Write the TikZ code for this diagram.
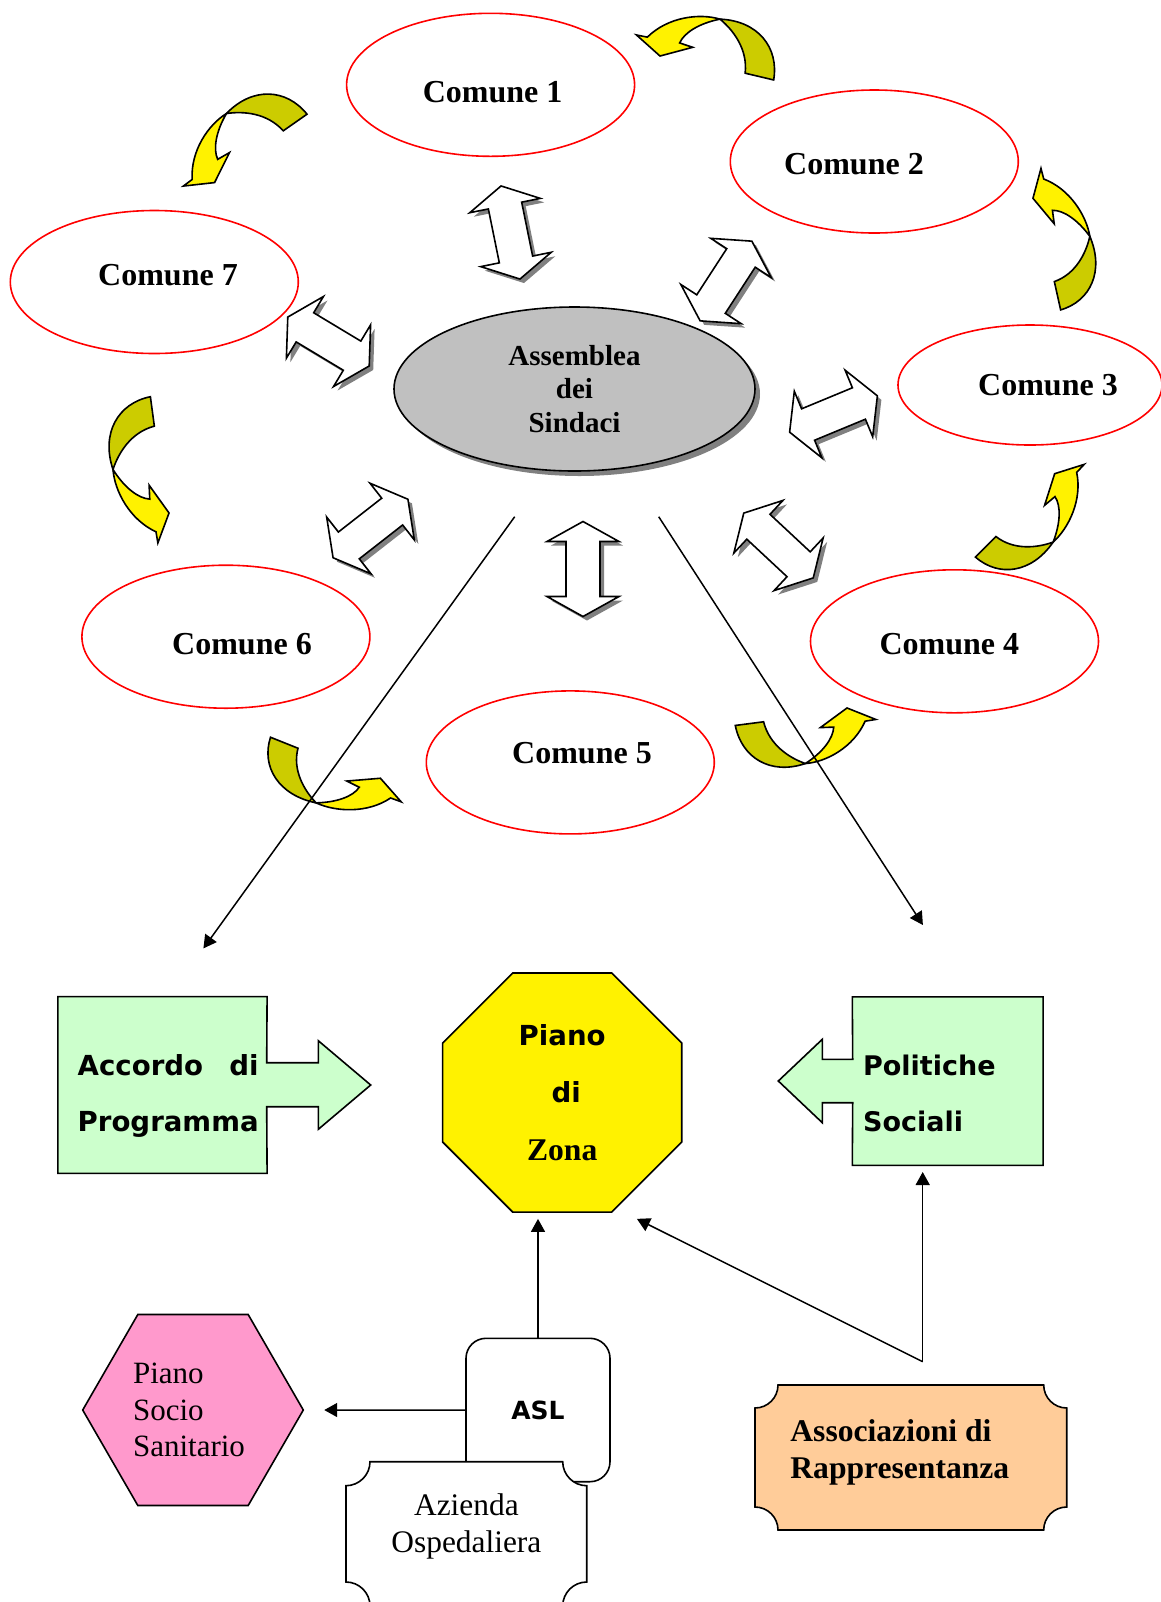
\documentclass[tikz,border=0pt]{standalone}
\usepackage{fontspec}
\setmainfont{Liberation Serif}
\newfontfamily\dvs{DejaVu Sans}
\usetikzlibrary{shapes.geometric,arrows.meta,shadows}

\definecolor{olivey}{HTML}{CCCC00}
\definecolor{lgreen}{HTML}{CCFFCC}
\definecolor{pinky}{HTML}{FF99CC}
\definecolor{peach}{HTML}{FFCC99}
\definecolor{asmgray}{HTML}{C0C0C0}
\definecolor{shadowgray}{HTML}{808080}

% double arrow between Assemblea and a Comune
\newcommand\dbpath{(-47.5,0) -- (-27.5,-36) -- (-27.5,-17) -- (27.5,-17) -- (27.5,-36) -- (47.5,0) -- (27.5,36) -- (27.5,17) -- (-27.5,17) -- (-27.5,36) -- cycle}
\newcommand\dblarr[3]{%
	\fill[shadowgray, shift={(#1+4,#2+4)}, rotate=#3] \dbpath;
	\draw[fill=white, line width=0.8pt, shift={(#1,#2)}, rotate=#3] \dbpath;
}

% curved yellow arrow between two Comuni
\newcommand\bendarr[5]{%
	\begin{scope}[shift={(#1,#2)}, rotate=#3, xscale=#4, yscale=#5, line width=0.8pt]
		\filldraw[fill=olivey] (36,0) -- (65,1) .. controls (64,-32) and (38,-54) .. (1,-48) .. controls (16,-40) and (34,-24) .. (36,0) -- cycle;
		\filldraw[fill=yellow] (1,-48) .. controls (-20,-50) and (-50,-40) .. (-66,-16) -- (-77,-16) -- (-50,0) -- (-20,-15) -- (-33.5,-16.7) .. controls (-31,-28) and (-18,-40) .. (1,-48) -- cycle;
	\end{scope}%
}

% box with hollowed corners
\newcommand\plaque[5]{(#1+#5,#2) -- (#3-#5,#2) .. controls (#3-#5,#2+0.55*#5) and (#3-0.55*#5,#2+#5) .. (#3,#2+#5) -- (#3,#4-#5) .. controls (#3-0.55*#5,#4-#5) and (#3-#5,#4-0.55*#5) .. (#3-#5,#4) -- (#1+#5,#4) .. controls (#1+#5,#4-0.55*#5) and (#1+0.55*#5,#4-#5) .. (#1,#4-#5) -- (#1,#2+#5) .. controls (#1+0.55*#5,#2+#5) and (#1+#5,#2+0.55*#5) .. (#1+#5,#2) -- cycle}

\begin{document}
\begin{tikzpicture}[x=0.5pt, y=-0.5pt,
	comune/.style={ellipse, draw=red, line width=0.8pt, minimum width=144pt, minimum height=71.5pt, inner sep=0},
	lbl/.style={font=\fontsize{16}{19}\selectfont\bfseries, inner sep=0},
	sansb/.style={font=\fontsize{13.8}{28}\selectfont\dvs\bfseries, inner sep=0},
	conn/.style={-{Triangle[length=6.5pt,width=7pt]}, line width=0.75pt}]
	
	\useasboundingbox (0,0) rectangle (1161,1602);
	
	\bendarr{709.5}{66}{-11.4}{1.01}{1}
	\bendarr{254.5}{152.5}{37}{1}{1}
	\bendarr{160.5}{462.5}{99.6}{1.024}{1}
	\bendarr{332.5}{760.8}{160}{1.02}{0.94}
	\bendarr{798.5}{716}{-170.6}{0.983}{1}
	\bendarr{1020.5}{510.2}{-133.1}{1}{0.95}
	\bendarr{1045.4}{246.7}{-75.6}{1}{0.95}
	
	\dblarr{510.5}{232.5}{101.5}
	\dblarr{726}{281}{57}
	\dblarr{833.5}{414}{22.5}
	\dblarr{778.5}{545.5}{-43}
	\dblarr{583}{569}{90}
	\dblarr{370.5}{528.5}{38}
	\dblarr{328.5}{341.5}{-31}
	
	\node[comune] (c1) at (490.6,84.8) {};
	\node[comune] (c2) at (874.3,161.5) {};
	\node[comune, minimum width=132pt, minimum height=60pt] (c3) at (1030,385) {};
	\node[comune] (c4) at (954.5,641.3) {};
	\node[comune] (c5) at (570.3,762.4) {};
	\node[comune] (c6) at (225.9,636.7) {};
	\node[comune] (c7) at (154.3,282) {};
	
	\node[lbl] (t1) at (492.6,92) {Comune 1};
	\node[lbl] (t2) at (854,164.5) {Comune 2};
	\node[lbl] (t3) at (1048,385) {Comune 3};
	\node[lbl] (t4) at (949.4,644) {Comune 4};
	\node[lbl] (t5) at (582,753) {Comune 5};
	\node[lbl] (t6) at (242,644) {Comune 6};
	\node[lbl] (t7) at (168,275) {Comune 7};
	
	\node[ellipse, draw, fill=asmgray, line width=0.8pt, minimum width=180.5pt, minimum height=82pt, inner sep=0,
		drop shadow={shadow xshift=2.5pt, shadow yshift=-2.5pt, fill=shadowgray, opacity=1},
		align=center, font=\fontsize{14.5}{16.9}\selectfont\bfseries] (asm) at (574.5,389) {Assemblea\\dei\\Sindaci};
	
	\coordinate (l0) at (514.7,516.7);
	\coordinate (l1) at (203.4,948.4);
	\coordinate (r0) at (658.7,516.7);
	\coordinate (r1) at (922.9,925);
	\draw[conn] (l0) -- (l1);
	\draw[conn] (r0) -- (r1);
	
	% Accordo di Programma
	\node[minimum width=104.2pt, minimum height=88pt, inner sep=0] (accbox) at (162.5,1085) {};
	\draw[fill=lgreen, line width=0.8pt] (accbox.north west) -- (accbox.north east) -- (266.7,1062.7) -- (318.3,1062.7) -- (318.3,1040.7) -- (370.7,1085) -- (318.3,1129.3) -- (318.3,1106.7) -- (266.7,1106.7) -- (accbox.south east) -- (accbox.south west) -- cycle;
	\node[sansb, anchor=base west] (acc) at (77.3,1075) {\begin{tabular}[t]{@{}l@{}}Accordo\hfill di\\Programma\end{tabular}};
	
	% Politiche Sociali
	\node[minimum width=95pt, minimum height=83.85pt, inner sep=0] (polbox) at (947.7,1081.15) {};
	\draw[fill=lgreen, line width=0.8pt] (polbox.north west) -- (polbox.north east) -- (polbox.south east) -- (polbox.south west) -- (852.7,1102.7) -- (822.3,1102.7) -- (822.3,1122.7) -- (778.3,1081) -- (822.3,1039.3) -- (822.3,1059.3) -- (852.7,1059.3) -- cycle;
	\node[sansb, font=\fontsize{13.5}{28.35}\selectfont\dvs\bfseries, anchor=base west] (pol) at (862.7,1075) {\begin{tabular}[t]{@{}l@{}}Politiche\\Sociali\end{tabular}};
	
	% Piano di Zona
	\node[regular polygon, regular polygon sides=8, minimum size=129.4pt, inner sep=0, draw, fill=yellow, line width=0.8pt,
		align=center, font=\fontsize{13.8}{28.75}\selectfont] (oct) at (562.2,1092.5) {\dvs\bfseries Piano\\\hspace*{4pt}\dvs\bfseries di\\\fontsize{15.8}{28.75}\selectfont\rmfamily\bfseries Zona};
	
	% Piano Socio Sanitario
	\node[regular polygon, regular polygon sides=6, minimum size=110.3pt, inner sep=0, draw, fill=pinky, line width=0.8pt,
		align=left, font=\fontsize{15.5}{18.3}\selectfont] (pss) at (193,1410) {Piano\\Socio\\Sanitario\hspace*{4pt}};
	
	% ASL and Azienda Ospedaliera
	\node[draw, fill=white, rounded corners=10pt, line width=0.8pt, minimum width=72pt, minimum height=71.7pt,
		font=\fontsize{12.5}{15}\selectfont\dvs\bfseries] (asl) at (538,1410) {ASL};
	\draw[fill=white, line width=0.8pt] \plaque{346}{1461.7}{586.7}{1606}{24};
	\node[font=\fontsize{15.7}{18.7}\selectfont, anchor=base, inner sep=0] (azo) at (466.4,1515) {\begin{tabular}[t]{@{}c@{}}Azienda\\Ospedaliera\end{tabular}};
	
	% Associazioni di Rappresentanza
	\draw[fill=peach, line width=0.8pt] \plaque{755}{1385}{1066.7}{1530}{23};
	\node[font=\fontsize{15.8}{18.65}\selectfont\bfseries, anchor=base west, inner sep=0] (assoc) at (790,1441) {\begin{tabular}[t]{@{}l@{}}Associazioni di\\Rappresentanza\end{tabular}};
	
	\coordinate (apex) at (922.7,1361.7);
	\draw[conn, shorten >=3pt] (asl.north) -- (asl.north |- oct.south);
	\draw[conn, shorten >=10pt] (asl.west) -- (pss.east);
	\draw[conn, shorten >=3.3pt] (apex) -- (apex |- polbox.south);
	\draw[conn, shorten >=11.5pt] (apex) -- (oct.-65);
	
\end{tikzpicture}
\end{document}
